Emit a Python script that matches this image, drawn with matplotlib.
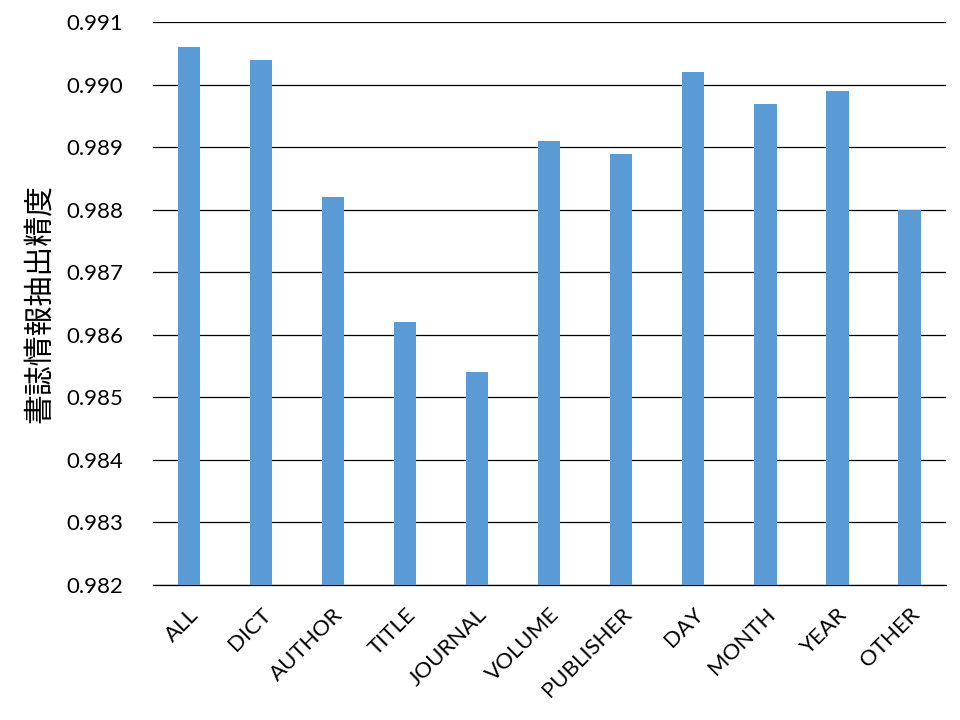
import matplotlib
matplotlib.use("Agg")
import matplotlib.pyplot as plt

categories = ["ALL", "DICT", "AUTHOR", "TITLE", "JOURNAL", "VOLUME",
              "PUBLISHER", "DAY", "MONTH", "YEAR", "OTHER"]
values = [0.9906, 0.9904, 0.9882, 0.9862, 0.9854, 0.9891,
          0.9889, 0.9902, 0.9897, 0.9899, 0.9880]
yticks = [0.982, 0.983, 0.984, 0.985, 0.986, 0.987, 0.988, 0.989, 0.990, 0.991]
ylabel = "書誌情報抽出精度"

plt.rcParams['font.family'] = ['Lato', 'Noto Sans CJK JP', 'DejaVu Sans']

fig = plt.figure(figsize=(9.6, 7.2), dpi=100)
ax = fig.add_axes([0.159, 0.1875, 0.826, 0.7815])

x = range(len(categories))
ax.bar(x, values, width=0.31, color="#5B9BD5", zorder=3)
ax.set_ylim(0.982, 0.991)
ax.set_xlim(-0.5, len(categories) - 0.5)
ax.set_yticks(yticks)
ax.set_yticklabels([f"{v:.3f}" for v in yticks], fontsize=16)
ax.yaxis.grid(True, color="black", linewidth=0.9, zorder=0)
ax.set_xticks(list(x))
ax.set_xticklabels(categories, rotation=45, ha="right", va="top",
                   rotation_mode="anchor", fontsize=16)
ax.tick_params(axis="both", length=0)
ax.tick_params(axis="y", pad=21)
ax.tick_params(axis="x", pad=14)
for s in ["top", "right", "left"]:
    ax.spines[s].set_visible(False)
ax.spines["bottom"].set_color("black")
ax.spines["bottom"].set_linewidth(0.9)
ax.set_ylabel(ylabel, fontsize=21.5, family=['Noto Sans CJK JP', 'DejaVu Sans'], labelpad=8)

fig.savefig("out.png", dpi=100)
